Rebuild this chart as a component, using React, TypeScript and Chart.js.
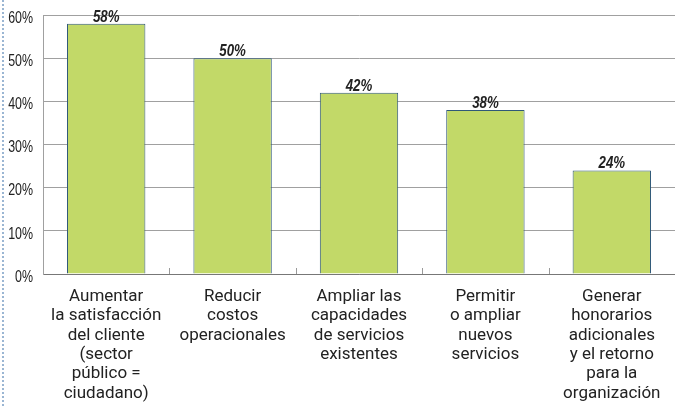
import React, { useEffect, useRef } from "react";
import { Chart, registerables } from "chart.js";

Chart.register(...registerables);

const categories: string[][] = [
  ["Aumentar", "la satisfacción", "del cliente", "(sector", "público =", "ciudadano)"],
  ["Reducir", "costos", "operacionales"],
  ["Ampliar las", "capacidades", "de servicios", "existentes"],
  ["Permitir", "o ampliar", "nuevos", "servicios"],
  ["Generar", "honorarios", "adicionales", "y el retorno", "para la", "organización"],
];
const values: number[] = [58, 50, 42, 38, 24];
const yTicks: number[] = [0, 10, 20, 30, 40, 50, 60];

function condensedText(ctx: any, text: string, x: number, y: number, scaleX: number) {
  ctx.save();
  ctx.translate(x, y);
  ctx.scale(scaleX, 1);
  ctx.fillText(text, 0, 0);
  ctx.restore();
}

const valueLabelPlugin = {
  id: "valueLabels",
  afterDatasetsDraw(chart: any) {
    const ctx = chart.ctx;
    const meta = chart.getDatasetMeta(0);
    ctx.save();
    ctx.font = "italic bold 17px 'Liberation Sans', Arial, sans-serif";
    ctx.fillStyle = "#222222";
    ctx.textAlign = "center";
    ctx.textBaseline = "alphabetic";
    meta.data.forEach((bar: any, i: number) => {
      condensedText(ctx, values[i] + "%", bar.x, bar.y - 2, 0.78);
    });
    ctx.restore();
  },
};

const yLabelPlugin = {
  id: "yLabels",
  afterDraw(chart: any) {
    const ctx = chart.ctx;
    const ys = chart.scales.y;
    ctx.save();
    ctx.font = "17px 'Liberation Sans', Arial, sans-serif";
    ctx.fillStyle = "#222222";
    ctx.textAlign = "right";
    ctx.textBaseline = "middle";
    yTicks.forEach((v) => {
      condensedText(ctx, v + "%", ys.left + ys.width - 10, ys.getPixelForValue(v) + 3, 0.73);
    });
    ctx.restore();
  },
};

const innerTicksPlugin = {
  id: "innerTicks",
  beforeDatasetsDraw(chart: any) {
    const ctx = chart.ctx;
    const xs = chart.scales.x;
    const bottom = chart.chartArea.bottom;
    ctx.save();
    ctx.strokeStyle = "#9a9a9a";
    ctx.lineWidth = 1;
    for (let i = 1; i < categories.length; i++) {
      const x = Math.round((xs.getPixelForTick(i - 1) + xs.getPixelForTick(i)) / 2) + 0.5;
      ctx.beginPath();
      ctx.moveTo(x, bottom - 6);
      ctx.lineTo(x, bottom);
      ctx.stroke();
    }
    ctx.restore();
  },
};

export default function App() {
  const ref = useRef<HTMLCanvasElement | null>(null);
  useEffect(() => {
    if (!ref.current) return;
    const chart = new Chart(ref.current, {
      type: "bar",
      data: {
        labels: categories,
        datasets: [
          {
            data: values,
            backgroundColor: "#c2d968",
            borderColor: "#2f5878",
            borderWidth: 1,
            categoryPercentage: 0.62,
            barPercentage: 1,
          },
        ],
      },
      options: {
        responsive: false,
        animation: false,
        layout: { padding: { top: 15, right: 0, left: 0, bottom: 0 } },
        plugins: { legend: { display: false }, tooltip: { enabled: false } },
        scales: {
          x: {
            grid: { display: false, drawTicks: false, tickLength: 0 },
            border: { display: true, color: "#777777", width: 1 },
            ticks: {
              color: "#222222",
              padding: 13,
              maxRotation: 0,
              autoSkip: false,
              font: { family: "Roboto, 'Liberation Sans', sans-serif", size: 17, lineHeight: 1.14 },
            },
            afterFit(scale: any) {
              scale.height = 132;
            },
          },
          y: {
            min: 0,
            max: 60,
            afterBuildTicks(scale: any) {
              scale.ticks = yTicks.map((v) => ({ value: v }));
            },
            grid: { color: "#a0a0a0", lineWidth: 1, drawTicks: false, tickLength: 0 },
            border: { display: true, color: "#a0a0a0", width: 1 },
            ticks: { display: false },
            afterFit(scale: any) {
              scale.width = 43;
            },
          },
        },
      },
      plugins: [valueLabelPlugin, innerTicksPlugin, yLabelPlugin],
    });
    return () => chart.destroy();
  }, []);
  return (
    <div style={{ position: "fixed", left: 0, top: 0, width: 675, height: 406, background: "#ffffff" }}>
      <div
        style={{
          position: "absolute",
          left: 2,
          top: 0,
          height: 406,
          width: 0,
          borderLeft: "2px dotted #9bb6d3",
        }}
      />
      <canvas ref={ref} width={675} height={406} style={{ display: "block" }} />
    </div>
  );
}
